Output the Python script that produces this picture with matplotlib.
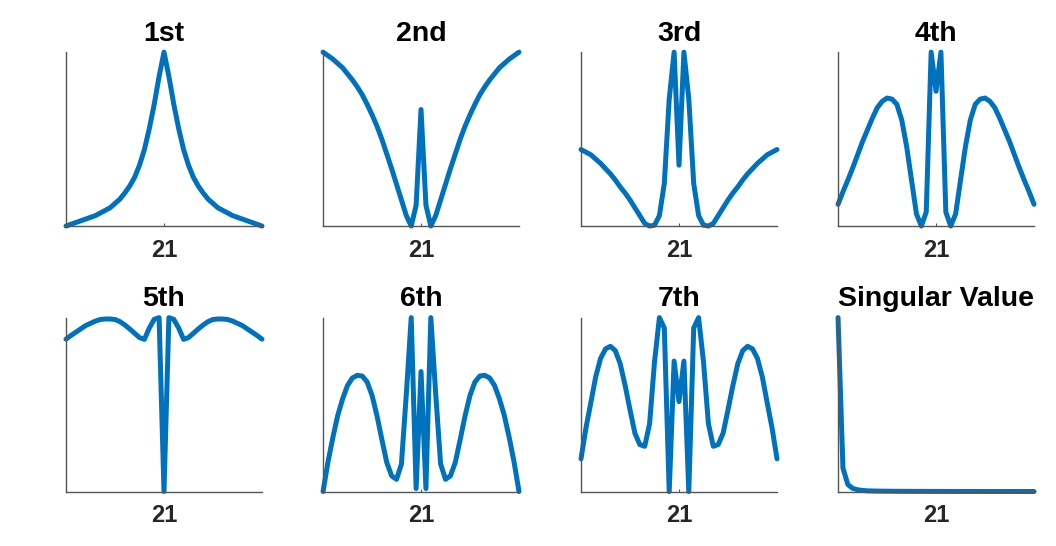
import numpy as np
import matplotlib
matplotlib.use('Agg')
import matplotlib.pyplot as plt

plt.rcParams['font.family'] = ['Liberation Sans', 'DejaVu Sans']

# |singular vector| values, 41 points each
idx = np.arange(1, 42)

first = [0.00, 0.01, 0.02, 0.03, 0.04, 0.05, 0.06, 0.075, 0.09, 0.105, 0.13, 0.155, 0.19, 0.23, 0.28, 0.35, 0.44, 0.56, 0.70, 0.86,
         1.00,
         0.86, 0.70, 0.56, 0.44, 0.35, 0.28, 0.23, 0.19, 0.155, 0.13, 0.105, 0.09, 0.075, 0.06, 0.05, 0.04, 0.03, 0.02, 0.01, 0.00]

second = [1.00, 0.98, 0.96, 0.935, 0.91, 0.875, 0.84, 0.80, 0.755, 0.70, 0.64, 0.575, 0.50, 0.415, 0.33, 0.24, 0.15, 0.06, 0.00, 0.12,
          0.67,
          0.12, 0.00, 0.06, 0.15, 0.24, 0.33, 0.415, 0.50, 0.575, 0.64, 0.70, 0.755, 0.80, 0.84, 0.875, 0.91, 0.935, 0.96, 0.98, 1.00]

third = [0.44, 0.425, 0.41, 0.385, 0.36, 0.33, 0.30, 0.265, 0.225, 0.19, 0.15, 0.105, 0.06, 0.015, 0.00, 0.005, 0.06, 0.245, 0.73, 1.00,
         0.35,
         1.00, 0.73, 0.245, 0.06, 0.005, 0.00, 0.015, 0.06, 0.105, 0.15, 0.19, 0.225, 0.265, 0.30, 0.33, 0.36, 0.385, 0.41, 0.425, 0.44]

fourth = [0.125, 0.197, 0.264, 0.335, 0.41, 0.486, 0.553, 0.62, 0.68, 0.717, 0.736, 0.73, 0.70, 0.61, 0.457, 0.264, 0.07, 0.00, 0.08, 1.00,
          0.775,
          1.00, 0.08, 0.00, 0.07, 0.264, 0.457, 0.61, 0.70, 0.73, 0.736, 0.717, 0.68, 0.62, 0.553, 0.486, 0.41, 0.335, 0.264, 0.197, 0.125]

fifth = [0.876, 0.897, 0.916, 0.935, 0.954, 0.967, 0.98, 0.989, 0.992, 0.992, 0.989, 0.977, 0.958, 0.935, 0.91, 0.885, 0.875, 0.94, 0.99, 1.00,
         0.00,
         1.00, 0.99, 0.94, 0.875, 0.885, 0.91, 0.935, 0.958, 0.977, 0.989, 0.992, 0.992, 0.989, 0.98, 0.967, 0.954, 0.935, 0.916, 0.897, 0.876]

sixth = [0.00, 0.168, 0.31, 0.437, 0.533, 0.61, 0.653, 0.668, 0.664, 0.63, 0.553, 0.437, 0.30, 0.168, 0.09, 0.07, 0.158, 0.56, 1.00, 0.017,
         0.69,
         0.017, 1.00, 0.56, 0.158, 0.07, 0.09, 0.168, 0.30, 0.437, 0.553, 0.63, 0.664, 0.668, 0.653, 0.61, 0.533, 0.437, 0.31, 0.168, 0.00]

seventh = [0.188, 0.364, 0.51, 0.66, 0.766, 0.82, 0.835, 0.81, 0.735, 0.61, 0.47, 0.335, 0.27, 0.26, 0.39, 0.745, 1.00, 0.94, 0.00, 0.75,
           0.517,
           0.75, 0.00, 0.94, 1.00, 0.745, 0.39, 0.26, 0.27, 0.335, 0.47, 0.61, 0.735, 0.81, 0.835, 0.82, 0.766, 0.66, 0.51, 0.364, 0.188]

singular = [1.0, 0.135, 0.04, 0.018, 0.01, 0.006, 0.004, 0.003, 0.0025, 0.002, 0.0017, 0.0015, 0.0013, 0.0011, 0.001,
            0.0009, 0.0008, 0.0007, 0.0006, 0.0005, 0.0005, 0.0004, 0.0004, 0.0003, 0.0003, 0.0003, 0.0002, 0.0002,
            0.0002, 0.0002, 0.0001, 0.0001, 0.0001, 0.0001, 0.0001, 0.0001, 0.0, 0.0, 0.0, 0.0, 0.0]

titles = ['1st', '2nd', '3rd', '4th', '5th', '6th', '7th', 'Singular Value']
series = [first, second, third, fourth, fifth, sixth, seventh, singular]
tick_pos = [21]
tick_lab = ['21']

fig = plt.figure(figsize=(10.56, 5.46), dpi=100)

lefts = [0.0625, 0.3059, 0.5502, 0.7936]
bottoms = [0.586, 0.0998]
w, h = 0.1856, 0.3185

for k, (t, y) in enumerate(zip(titles, series)):
    ax = fig.add_axes([lefts[k % 4], bottoms[k // 4], w, h])
    ax.plot(idx, y, color='#0072BD', lw=3.6, clip_on=False,
            solid_joinstyle='round', solid_capstyle='round')
    ax.set_xlim(1, 41)
    ax.set_ylim(min(y), max(y))
    ax.spines['top'].set_visible(False)
    ax.spines['right'].set_visible(False)
    for s in ['left', 'bottom']:
        ax.spines[s].set_color('#555555')
        ax.spines[s].set_linewidth(1.0)
    ax.set_yticks([])
    ax.set_xticks(tick_pos)
    ax.set_xticklabels(tick_lab, fontsize=17, fontweight='bold', color='#262626')
    ax.tick_params(axis='x', direction='in', length=2, width=0.8, color='#555555', pad=9)
    ax.set_title(t, fontsize=20.5, fontweight='bold', color='black', pad=8)

fig.savefig('out.png', dpi=100)
